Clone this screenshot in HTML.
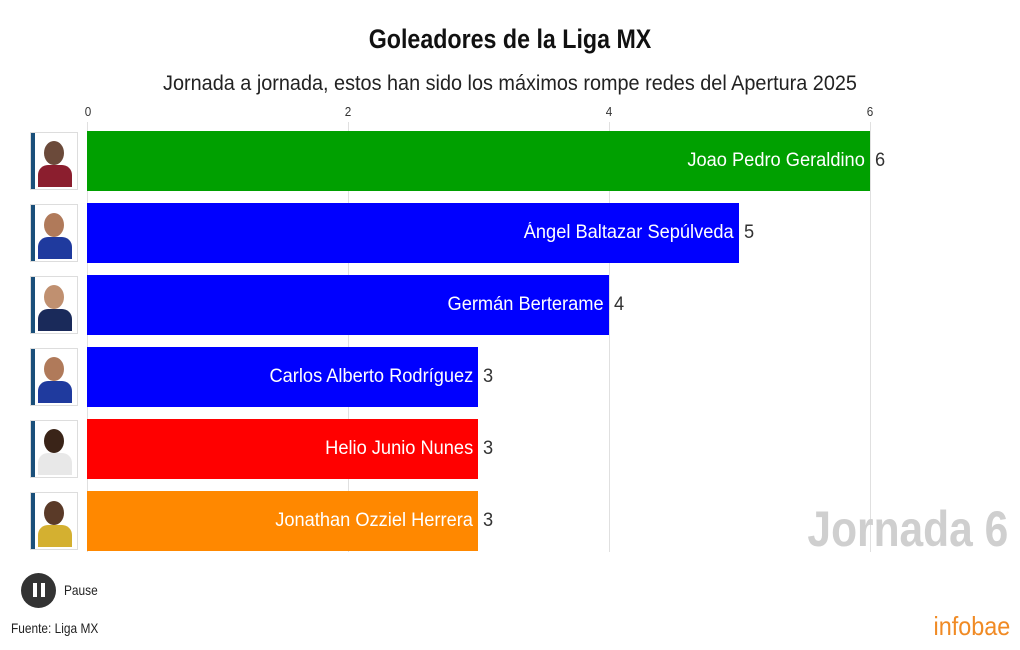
<!DOCTYPE html>
<html><head><meta charset="utf-8"><style>
body{margin:0;width:1020px;height:650px;background:#fff;font-family:"Liberation Sans",sans-serif;position:relative;overflow:hidden}
.t{position:absolute;white-space:nowrap}
.grid{position:absolute;top:122px;height:430px;width:1px;background:#e0e0e0}
.tick{position:absolute;top:104px;font-size:13px;color:#333;transform:translateX(-50%) scaleX(.9)}
.bar{position:absolute;left:87px;height:60px}
.lab{position:absolute;right:5px;top:0;line-height:60px;color:#fff;font-size:19px;transform-origin:right center;transform:scaleX(.96)}
.val{position:absolute;line-height:60px;font-size:19px;color:#333;transform-origin:left center;transform:scaleX(.96)}
.card{position:absolute;left:30px;width:48px;height:58px;background:#fff;border:1px solid #ddd;box-sizing:border-box}
.card:before{content:"";position:absolute;left:0;top:0;width:4px;height:100%;background:#1a4f7a}
.card .f{position:absolute;left:13px;top:8px;width:20px;height:24px;border-radius:50%;background:#6b4a3a}
.card .b{position:absolute;left:7px;top:32px;width:34px;height:22px;border-radius:10px 10px 0 0}
</style></head><body>
<div class="t" style="left:0;width:1020px;text-align:center;top:24px;font-size:27px;font-weight:bold;color:#111;transform:scaleX(.86)">Goleadores de la Liga MX</div>
<div class="t" style="left:0;width:1020px;text-align:center;top:72px;font-size:21px;color:#222;transform:scaleX(.945)">Jornada a jornada, estos han sido los máximos rompe redes del Apertura 2025</div>
<div class="grid" style="left:87px"></div><div class="grid" style="left:348px"></div><div class="grid" style="left:609px"></div><div class="grid" style="left:870px"></div>
<div class="tick" style="left:88px">0</div><div class="tick" style="left:348px">2</div><div class="tick" style="left:609px">4</div><div class="tick" style="left:870px">6</div>

<div class="bar" style="top:131px;width:783px;background:#00a000"><span class="lab">Joao Pedro Geraldino</span></div><div class="val" style="left:875px;top:131px">6</div>
<div class="bar" style="top:203px;width:652px;background:#0000ff"><span class="lab">Ángel Baltazar Sepúlveda</span></div><div class="val" style="left:744px;top:203px">5</div>
<div class="bar" style="top:275px;width:522px;background:#0000ff"><span class="lab">Germán Berterame</span></div><div class="val" style="left:614px;top:275px">4</div>
<div class="bar" style="top:347px;width:391px;background:#0000ff"><span class="lab">Carlos Alberto Rodríguez</span></div><div class="val" style="left:483px;top:347px">3</div>
<div class="bar" style="top:419px;width:391px;background:#ff0000"><span class="lab">Helio Junio Nunes</span></div><div class="val" style="left:483px;top:419px">3</div>
<div class="bar" style="top:491px;width:391px;background:#ff8800"><span class="lab">Jonathan Ozziel Herrera</span></div><div class="val" style="left:483px;top:491px">3</div>

<div class="card" style="top:132px"><div class="f"></div><div class="b" style="background:#8b1e2e"></div></div>
<div class="card" style="top:204px"><div class="f" style="background:#b07a5a"></div><div class="b" style="background:#1f3a9e"></div></div>
<div class="card" style="top:276px"><div class="f" style="background:#c09070"></div><div class="b" style="background:#1a2a5a"></div></div>
<div class="card" style="top:348px"><div class="f" style="background:#b07a5a"></div><div class="b" style="background:#1f3a9e"></div></div>
<div class="card" style="top:420px"><div class="f" style="background:#3a2418"></div><div class="b" style="background:#e8e8e8"></div></div>
<div class="card" style="top:492px"><div class="f" style="background:#5a3a28"></div><div class="b" style="background:#d4b030"></div></div>

<div class="t" style="right:12px;top:500px;font-size:50px;font-weight:bold;color:#cfcfcf;transform-origin:right;transform:scaleX(.85)">Jornada 6</div>
<div style="position:absolute;left:21px;top:573px;width:35px;height:35px;border-radius:50%;background:#333"></div>
<div style="position:absolute;left:33px;top:583px;width:4px;height:14px;background:#fff"></div>
<div style="position:absolute;left:41px;top:583px;width:4px;height:14px;background:#fff"></div>
<div class="t" style="left:64px;top:582px;font-size:14px;color:#222;transform-origin:left;transform:scaleX(.85)">Pause</div>
<div class="t" style="left:11px;top:620px;font-size:14px;color:#222;transform-origin:left;transform:scaleX(.85)">Fuente: Liga MX</div>
<div class="t" style="right:10px;top:611px;font-size:26px;color:#f08a24;transform-origin:right;transform:scaleX(.9)">infobae</div>
</body></html>
